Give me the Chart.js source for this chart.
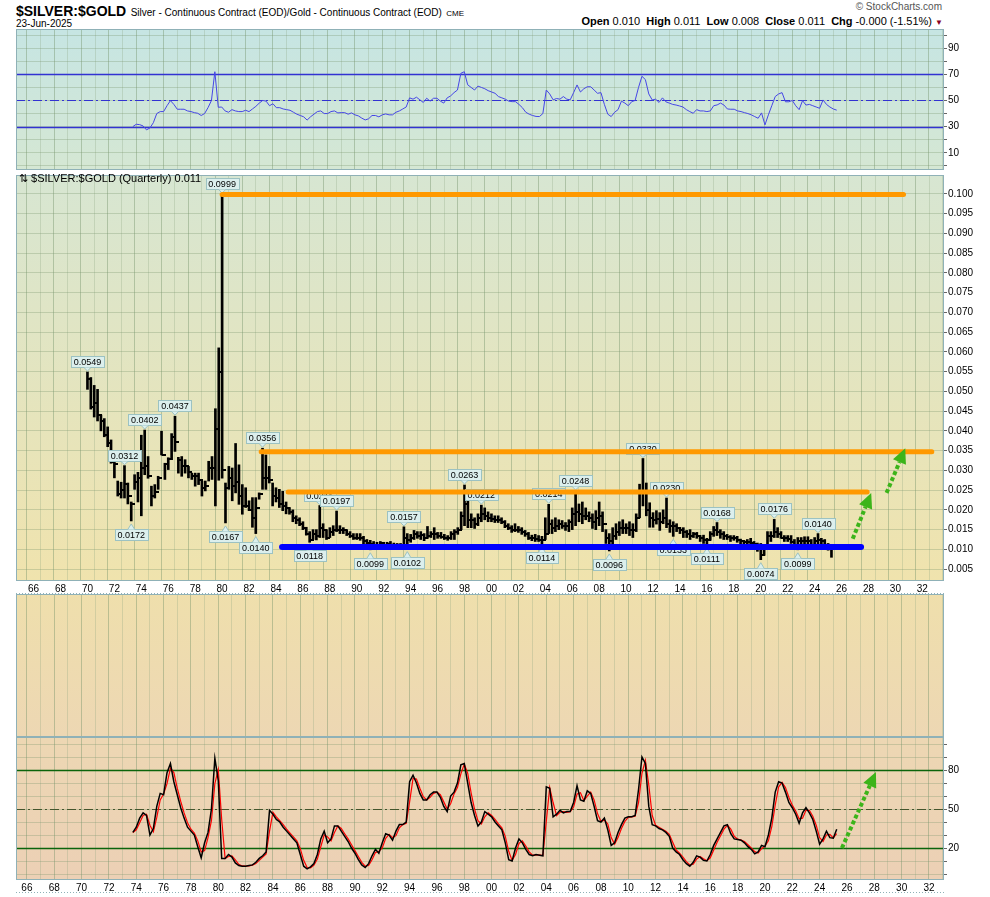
<!DOCTYPE html>
<html>
<head>
<meta charset="utf-8">
<script src="https://cdn.jsdelivr.net/npm/chart.js@4.4.1/dist/chart.umd.min.js"></script>
<style>
  html, body { margin: 0; padding: 0; background: #fff; }
  #wrap { position: relative; width: 990px; height: 897px; overflow: hidden; font-family: "Liberation Sans", Arial, sans-serif; color: #000; }
  canvas { position: absolute; left: 0; }
  #title { position: absolute; left: 16px; top: 2px; white-space: nowrap; }
  #title .sym { font-weight: bold; font-size: 14px; }
  #title .desc { font-size: 10px; }
  #title .ex { font-size: 8px; }
  #date { position: absolute; left: 16px; top: 18px; font-size: 10px; }
  #brand { position: absolute; right: 48px; top: 1px; font-size: 10px; color: #555; }
  #quote { position: absolute; right: 47px; top: 15px; font-size: 11px; white-space: nowrap; }
  #quote b { font-size: 11px; }
  #quote .tri { color: #8b0022; font-size: 8px; }
  #legend { position: absolute; left: 19px; top: 172px; font-size: 11px; white-space: nowrap; z-index: 2; }
</style>
</head>
<body>
<div id="wrap">
  <div id="title"><span class="sym">$SILVER:$GOLD</span> <span class="desc">Silver - Continuous Contract (EOD)/Gold - Continuous Contract (EOD)</span> <span class="ex">CME</span></div>
  <div id="date">23-Jun-2025</div>
  <div id="brand">© StockCharts.com</div>
  <div id="quote"><b>Open</b> 0.010&nbsp; <b>High</b> 0.011&nbsp; <b>Low</b> 0.008&nbsp; <b>Close</b> 0.011&nbsp; <b>Chg</b> -0.000 (-1.51%) <span class="tri">▼</span></div>
  <canvas id="rsiPanel" width="990" height="141" style="top:29px"></canvas>
  <canvas id="pricePanel" width="990" height="424" style="top:170px"></canvas>
  <canvas id="emptyPanel" width="990" height="143" style="top:594px"></canvas>
  <canvas id="stochPanel" width="990" height="156" style="top:737px"></canvas>
  <div id="legend">⇅ $SILVER:$GOLD (Quarterly) 0.011</div>
</div>
<script>
// ---- data (quarterly, first bar = 1970 Q1) ----
const SCALE = 1000;          // price arrays are the ratio x 1000
const FIRST_QUARTER = 1970;
const IND_START = 15;        // indicators begin at 1973 Q4

const highs = [
  54.9, 53.5, 51.5, 50.5,  44.0, 43.1, 41.0, 37.7,  33.9, 27.3, 27.0, 31.2,  26.8, 22.0, 28.9, 29.5,
  38.9, 40.2, 33.5, 26.0,  26.4, 28.5, 39.9, 31.8,  33.2, 39.3, 43.7, 33.3,  33.5, 32.7, 31.0, 29.3,
  29.3, 29.3, 27.3, 27.3,  32.3, 33.5, 45.6, 61.0,  99.9, 26.8, 31.0, 30.6,  36.8, 31.4, 26.4, 25.6,
  22.3, 23.1, 23.1, 24.3,  35.6, 33.9, 31.0, 26.8,  25.6, 25.2, 24.7, 22.0,  20.6, 20.0, 18.5, 18.0,
  17.0, 15.6, 14.5, 15.0,  15.0, 21.1, 16.5, 15.0,  15.5, 16.0, 19.7, 16.0,  15.5, 15.0, 14.5, 14.0,
  14.0, 14.0, 13.3, 12.5,  12.3, 12.0, 11.8, 12.0,  11.8, 11.8, 12.0, 11.6,  11.5, 11.5, 15.7, 14.0,
  13.8, 14.8, 14.5, 14.5,  14.0, 15.8, 14.5, 15.5,  14.3, 14.3, 13.8, 13.5,  14.5, 15.0, 15.5, 19.5,
  26.3, 22.5, 19.0, 18.0,  19.0, 21.2, 20.5, 19.5,  19.0, 18.5, 18.5, 18.0,  17.3, 16.5, 16.0, 16.5,
  15.8, 15.5, 14.8, 14.3,  13.6, 13.8, 13.5, 13.3,  18.0, 21.4, 17.5, 18.0,  17.5, 17.3, 16.8, 17.5,
  20.5, 24.8, 21.5, 22.0,  20.5, 19.5, 19.0, 19.8,  22.0, 19.5, 15.0, 14.0,  15.5, 16.5, 17.0, 17.5,
  16.5, 17.0, 16.5, 19.0,  26.5, 33.0, 26.8, 21.8,  19.3, 19.8, 19.3, 20.0,  23.0, 17.5, 17.0, 16.5,
  15.5, 15.5, 14.8, 15.0,  14.3, 14.3, 13.5, 13.6,  12.8, 14.5, 15.8, 16.8,  15.0, 14.5, 13.8, 13.5,
  13.5, 13.3, 12.6, 12.3,  12.5, 12.8, 12.0, 11.6,  11.5, 11.0, 14.5, 14.5,  17.6, 15.5, 14.5, 13.5,
  13.5, 13.5, 12.5, 13.0,  13.0, 13.2, 13.2, 12.5,  13.0, 14.0, 12.8, 12.5,  11.5, 11.0
];
const lows = [
  50.5, 45.5, 43.5, 42.5,  40.0, 38.5, 36.0, 31.8,  28.1, 23.5, 23.0, 23.0,  21.5, 17.2, 25.2, 22.0,
  18.5, 28.9, 28.0, 21.0,  23.0, 25.2, 33.9, 27.7,  30.2, 32.7, 34.8, 29.3,  28.5, 29.3, 28.1, 27.7,
  26.0, 26.4, 23.5, 24.8,  27.3, 27.7, 21.0, 27.5,  28.0, 16.7, 25.2, 22.3,  24.3, 21.4, 18.9, 20.6,
  19.8, 15.6, 14.0, 22.7,  25.2, 25.2, 26.8, 21.0,  22.0, 20.6, 19.8, 19.0,  18.9, 17.0, 16.5, 16.0,
  15.0, 13.6, 11.8, 12.5,  12.4, 13.0, 13.0, 12.5,  13.0, 13.5, 14.5, 14.0,  14.0, 13.5, 13.0, 12.5,
  12.5, 12.3, 11.4, 10.9,   9.9, 10.5, 10.5, 10.8,  10.6, 10.7, 10.7, 10.5,  10.4, 10.5, 11.0, 10.2,
  11.8, 12.5, 12.8, 12.5,  12.2, 12.8, 13.0, 12.5,  12.8, 12.8, 12.5, 12.3,  12.5, 12.5, 13.8, 15.0,
  16.0, 15.5, 15.5, 15.3,  16.0, 17.0, 17.5, 17.0,  17.0, 16.8, 16.8, 16.5,  15.5, 15.0, 14.3, 14.5,
  14.3, 13.8, 13.3, 12.5,  12.2, 12.0, 12.0, 11.4,  12.5, 14.0, 14.0, 14.5,  15.0, 15.3, 14.8, 14.5,
  15.0, 16.0, 17.0, 16.5,  17.5, 17.0, 15.3, 15.0,  16.0, 14.5, 11.5,  9.6,  11.0, 12.5, 13.5, 14.0,
  14.0, 13.5, 13.0, 14.5,  18.0, 21.0, 18.5, 15.6,  15.6, 16.4, 14.8, 16.5,  15.5, 14.3, 13.3, 14.5,
  14.0, 13.0, 13.0, 12.5,  13.0, 12.8, 12.0, 11.5,  11.1, 12.3, 13.3, 13.5,  12.8, 12.5, 12.5, 12.0,
  12.3, 11.8, 11.3, 11.2,  11.0, 10.8, 10.5,  9.5,   7.4,  8.5, 10.0, 12.0,  13.0, 13.0, 12.8, 12.0,
  12.0, 11.5, 10.6,  9.9,  11.2, 11.0, 10.8, 10.5,  11.3, 11.0, 11.3, 10.0,   9.8,  8.0
];
const closes = [
  53.0, 46.0, 47.0, 44.0,  42.5, 39.0, 37.0, 32.0,  31.5, 24.0, 25.0, 26.5,  23.5, 21.5, 27.0, 28.0,
  30.5, 31.0, 28.5, 23.5,  24.5, 28.0, 34.0, 31.5,  33.0, 38.5, 37.3, 32.5,  31.0, 31.0, 29.5, 28.5,
  28.5, 27.5, 25.5, 26.0,  30.5, 30.5, 40.5, 55.0,  30.0, 25.6, 28.0, 26.0,  27.0, 23.5, 21.0, 21.0,
  20.0, 18.0, 20.5, 24.0,  28.0, 28.0, 27.5, 23.5,  23.0, 21.5, 21.0, 20.5,  19.5, 18.0, 17.5, 16.5,
  15.5, 14.0, 12.5, 14.0,  13.5, 15.5, 15.0, 13.0,  14.5, 15.0, 15.0, 15.0,  14.8, 14.0, 13.5, 13.0,
  13.0, 13.0, 12.0, 11.5,  11.3, 11.0, 11.2, 11.5,  11.0, 11.3, 11.2, 11.0,  11.0, 11.0, 13.0, 12.5,
  12.8, 14.0, 13.5, 13.6,  13.0, 13.5, 14.0, 13.8,  13.5, 13.2, 13.0, 12.8,  14.0, 14.5, 15.0, 18.5,
  21.5, 17.5, 17.5, 16.5,  18.0, 19.0, 18.5, 18.0,  17.8, 17.5, 17.5, 17.0,  16.0, 15.5, 15.0, 15.0,
  14.8, 14.3, 13.8, 13.0,  12.8, 12.6, 12.5, 12.4,  14.0, 16.5, 15.5, 16.0,  16.3, 16.0, 15.8, 17.0,
  19.0, 19.5, 19.0, 18.5,  18.5, 18.0, 17.0, 18.0,  18.5, 16.5, 13.0, 12.0,  13.5, 14.5, 15.5, 15.5,
  15.5, 15.0, 15.0, 18.0,  24.5, 24.5, 20.0, 18.0,  17.5, 17.8, 17.0, 18.0,  16.5, 16.0, 16.0, 15.5,
  15.0, 14.5, 14.0, 13.5,  13.8, 13.5, 12.8, 12.5,  12.3, 14.0, 15.0, 14.5,  14.0, 13.5, 13.2, 12.8,
  12.8, 12.5, 12.0, 11.8,  11.8, 11.5, 11.3, 11.0,   8.5, 10.5, 13.5, 13.5,  14.5, 14.0, 13.0, 12.8,
  12.7, 11.8, 11.0, 12.0,  12.0, 12.2, 12.0, 11.2,  12.2, 12.3, 12.0, 11.0,  10.5, 10.9
];

// RSI(14), from 1973 Q4
const rsi14 = [
  30,
  31.8, 31.5, 30.5, 27.5,  29, 33, 40, 41.5,  41.5, 46, 49.9, 47,  43.3, 43.3, 43.3, 42,
  41.5, 40.7, 40.2, 38.5,  40, 44.5, 50, 72,  44.8, 45, 42, 41,  43, 42, 41.5, 41.5,
  42.5, 41.5, 43.5, 45.5,  48, 50, 49.5, 46,  47.5, 44.5, 44.5, 43.5,  43, 42.5, 41, 39.5,
  38.5, 37.5, 35, 37.5,  39.5, 41.5, 42, 40,  40, 41.5, 42, 40.5,  40.7, 40.7, 39.5, 40.5,
  39, 38.2, 36.5, 35.1,  36, 38.5, 38.5, 37.5,  39, 39.7, 39, 39,  41, 42, 43.5, 45,
  52, 51, 52.5, 50.5,  48.5, 51.7, 49.5, 51.7,  51.7, 49.5, 48, 52,  53.5, 56, 58, 70.8,
  72, 62, 60, 58,  61, 60, 59, 57.5,  56.5, 55.5, 53, 52,  51, 49.5, 49.1, 49.1,
  47, 44.5, 41, 39.5,  38.5, 37.8, 37.7, 40,  58, 55, 50.5, 51.5,  51, 53, 51, 50.5,
  56, 61.9, 56.5, 59,  60.5, 60.5, 58, 55.5,  56, 47, 39.5, 37.7,  41, 43, 49.5, 48,
  46, 49.1, 50, 60,  68.5, 66, 55, 50.4,  51, 48.5, 52, 49,  48, 47, 46.5, 45.8,
  45, 43, 41.5, 40.2,  43, 42, 42, 41.5,  42, 46, 46.6, 48,  46.5, 43.5, 43.3, 43.3,
  42, 41.5, 40.7, 40,  39, 37.7, 36.4, 40.5,  31.3, 39, 46, 53,  55, 56, 49, 49,
  50, 46, 43, 49.9,  46.5, 47, 46, 45,  44, 50.4, 47, 45,  43.5, 42.6
];

// slow stochastic %K and %D, from 1973 Q4
const stochK = [
  32,
  36, 43, 47, 45,  30, 35, 52, 62,  61, 78, 85, 71,  61, 51, 43, 36,
  33, 30, 21, 12.5,  24, 32, 50, 89,  72, 12, 12, 15,  13, 8.5, 6.5, 6,
  6, 6.5, 7, 9,  12, 14, 17, 49,  46, 42, 40, 36,  33, 30, 27, 24,
  15, 6, 4, 5.5,  8, 15, 27, 33,  24, 27, 37, 37,  33, 29, 25, 20,
  16, 11, 7, 5,  8, 14, 19, 16,  24, 31, 30, 26,  33, 38, 38, 40,
  71, 76, 70, 62,  57, 57, 61, 63,  63, 59, 52, 48,  60, 63, 70, 84,
  85, 70, 55, 45,  37, 40, 48, 46,  44, 40, 37, 34,  24, 11, 10, 20,
  27, 24, 19, 15,  14, 15, 14.5, 14,  67, 66, 44, 46,  49, 47, 48, 48,
  55, 68, 57, 56,  64, 62, 52, 41,  40, 43, 34, 22,  24, 32, 38, 43,
  44, 44, 45, 65,  90, 85, 52, 38,  37, 35, 34, 32,  29, 20, 17, 15,
  11, 8, 6, 9,  14, 13, 10.5, 10,  15, 22, 27, 32,  37, 38, 31, 27,
  26.5, 26, 24, 21,  19, 15.5, 17, 22,  21, 30, 43, 63,  71, 70, 63, 55,
  51, 46, 39, 47,  51, 47, 42, 33,  23, 27, 33, 28,  27.5, 34.5
];
const stochD = [
  32,
  34, 39.5, 45, 46,  37.5, 32.5, 43.5, 57,  61.5, 69.5, 81.5, 78,  66, 56, 47, 39.5,
  34.5, 31.5, 25.5, 17,  18, 28, 41, 69.5,  80.5, 42, 12, 13.5,  14, 10.8, 7.5, 6.2,
  6, 6.2, 6.8, 8,  10.5, 13, 15.5, 33,  47.5, 44, 41, 38,  34.5, 31.5, 28.5, 25.5,
  19.5, 10.5, 5, 4.8,  6.8, 11.5, 21, 30,  28.5, 25.5, 32, 37,  35, 31, 27, 22.5,
  18, 13.5, 9, 6,  6.5, 11, 16.5, 17.5,  20, 27.5, 30.5, 28,  29.5, 35.5, 38, 39,
  55.5, 73.5, 73, 66,  59.5, 57, 59, 62,  63, 61, 55.5, 50,  54, 61.5, 66.5, 77,
  84.5, 77.5, 62.5, 50,  41, 38.5, 44, 47,  45, 42, 38.5, 35.5,  29, 17.5, 10.5, 15,
  23.5, 25.5, 21.5, 17,  14.5, 14.5, 14.8, 14.2,  40.5, 66.5, 55, 45,  47.5, 48, 47.5, 48,
  51.5, 61.5, 62.5, 56.5,  60, 63, 57, 46.5,  40.5, 41.5, 38.5, 28,  23, 28, 35, 40.5,
  43.5, 44, 44.5, 55,  77.5, 87.5, 68.5, 45,  37.5, 36, 34.5, 33,  30.5, 24.5, 18.5, 16,
  13, 9.5, 7, 7.5,  11.5, 13.5, 11.8, 10.2,  12.5, 18.5, 24.5, 29.5,  34.5, 37.5, 34.5, 29,
  26.8, 26.2, 25, 22.5,  20, 17.2, 16.2, 19.5,  21.5, 25.5, 36.5, 53,  67, 70.5, 66.5, 59,
  53, 48.5, 42.5, 43,  49, 49, 44.5, 37.5,  28, 25, 30, 30.5,  27.8, 31
];

// value callouts on the price panel
const calloutYears  = [1970.0, 1972.75, 1973.25, 1974.25, 1976.5, 1980.0, 1980.25, 1982.5, 1983.0, 1986.5, 1987.25, 1988.5,
                       1991.0, 1993.5, 1993.75, 1998.0, 1999.25, 2003.75, 2004.25, 2006.25, 2008.75, 2011.25, 2013.0, 2013.5,
                       2016.0, 2016.75, 2020.0, 2021.0, 2022.75, 2024.25];
const calloutValues = [54.9, 31.2, 17.2, 40.2, 43.7, 99.9, 16.7, 14.0, 35.6, 11.8, 21.1, 19.7,
                       9.9, 15.7, 10.2, 26.3, 21.2, 11.4, 21.4, 24.8, 9.6, 33.0, 23.0, 13.3,
                       11.1, 16.8, 7.4, 17.6, 9.9, 14.0];
const calloutBelow  = [false, false, true, false, false, false, true, true, false, true, false, false,
                       true, false, true, false, false, true, false, false, true, false, false, true,
                       true, false, true, false, true, false];

// drawn support / resistance lines (years, ratio)
const trendFrom  = [1980.0, 1982.9, 1984.9, 1984.45];
const trendTo    = [2030.6, 2032.7, 2027.9, 2027.45];
const trendLevel = [0.0998, 0.0347, 0.0245, 0.0106];

// projection arrows [fromYear, fromValue, toYear, toValue]
const priceArrows = [[2026.83, 0.0127, 2028.2, 0.0243], [2029.34, 0.0243, 2030.73, 0.0356]];
const stochArrow = [2025.63, 20, 2028.12, 78.5];

// axes
const yearLabels = ['66','68','70','72','74','76','78','80','82','84','86','88','90','92','94','96','98',
                    '00','02','04','06','08','10','12','14','16','18','20','22','24','26','28','30','32'];
const priceTicks = [0.005, 0.010, 0.015, 0.020, 0.025, 0.030, 0.035, 0.040, 0.045, 0.050,
                    0.055, 0.060, 0.065, 0.070, 0.075, 0.080, 0.085, 0.090, 0.095, 0.100];
const oscGrid = [0, 10, 20, 30, 40, 50, 60, 70, 80, 90, 100];
const rsiLabels = [10, 30, 50, 70, 90];
const stochLabels = [20, 50, 80];
const rsiLevels = [70, 50, 30];
const stochLevels = [80, 50, 20];

// ---- shared look ----
const X_MIN = 1965.2, X_MAX = 2033.1;
const GRID_EVEN = 'rgba(115,145,105,0.42)';
const GRID_ODD = 'rgba(135,160,125,0.28)';
const GRID_H = 'rgba(120,150,110,0.32)';
const BORDER = '#8fb1b7';
const tickFont = { family: '"Liberation Sans", Arial, sans-serif', size: 10 };

const gridYears = [];
for (let y = 1966; y <= 2033; y++) gridYears.push(y);

const quarterX = i => FIRST_QUARTER + i * 0.25;

function noPad(s) {
  s.paddingTop = 0; s.paddingBottom = 0; s.paddingLeft = 0; s.paddingRight = 0;
}

function xAxis(showLabels) {
  return {
    type: 'linear', min: X_MIN, max: X_MAX,
    afterBuildTicks: s => { s.ticks = gridYears.map(v => ({ value: v })); },
    afterFit: s => { s.height = showLabels ? 13 : 0; noPad(s); },
    grid: { color: c => (c.tick && c.tick.value % 2 === 0) ? GRID_EVEN : GRID_ODD, drawTicks: false },
    border: { display: false },
    ticks: {
      display: showLabels, autoSkip: false, maxRotation: 0, padding: 2, color: '#000', font: tickFont,
      callback: v => (v % 2 === 0) ? yearLabels[(v - 1966) / 2] : ''
    }
  };
}

function yAxis(min, max, gridVals, labelFn, showGrid) {
  return {
    position: 'right', min, max,
    afterBuildTicks: s => { s.ticks = gridVals.map(v => ({ value: v })); },
    afterFit: s => { s.width = 46; noPad(s); },
    grid: { display: showGrid, color: GRID_H, drawTicks: true, tickLength: 3, tickColor: '#666' },
    border: { display: false },
    ticks: { autoSkip: false, padding: 1, color: '#000', font: tickFont, callback: labelFn }
  };
}

function panelPlugin(top, bottom, strip) {
  return {
    id: 'panel',
    beforeDraw(chart) {
      const { ctx, chartArea: a } = chart;
      const g = ctx.createLinearGradient(0, a.top, 0, a.bottom);
      g.addColorStop(0, top);
      g.addColorStop(1, bottom);
      ctx.save();
      ctx.fillStyle = g;
      ctx.fillRect(a.left, a.top, a.right - a.left, a.bottom - a.top);
      ctx.restore();
    },
    afterDraw(chart) {
      const { ctx, chartArea: a } = chart;
      ctx.save();
      ctx.strokeStyle = BORDER;
      ctx.lineWidth = 1;
      ctx.strokeRect(a.left + 0.5, a.top + 0.5, a.right - a.left - 1, a.bottom - a.top - 1);
      if (strip) {
        ctx.setLineDash([1, 2]);
        ctx.beginPath();
        ctx.moveTo(a.left, a.bottom + 12.5);
        ctx.lineTo(a.right, a.bottom + 12.5);
        ctx.stroke();
      }
      ctx.restore();
    }
  };
}

function levelPlugin(values, colors, widths, dashes) {
  return {
    id: 'levels',
    beforeDatasetsDraw(chart) {
      const { ctx, chartArea: a, scales: { y } } = chart;
      ctx.save();
      values.forEach((v, i) => {
        const py = Math.round(y.getPixelForValue(v)) + 0.5;
        ctx.strokeStyle = colors[i];
        ctx.lineWidth = widths[i];
        ctx.setLineDash(dashes[i]);
        ctx.beginPath();
        ctx.moveTo(a.left, py);
        ctx.lineTo(a.right, py);
        ctx.stroke();
      });
      ctx.restore();
    }
  };
}

function drawArrow(ctx, x1, y1, x2, y2) {
  const ang = Math.atan2(y2 - y1, x2 - x1);
  const head = 15, hw = 7;
  const bx = x2 - head * Math.cos(ang), by = y2 - head * Math.sin(ang);
  ctx.save();
  ctx.strokeStyle = '#3cb41a';
  ctx.fillStyle = '#3cb41a';
  ctx.lineWidth = 4;
  ctx.lineCap = 'butt';
  ctx.setLineDash([4, 2.5]);
  ctx.beginPath();
  ctx.moveTo(x1, y1);
  ctx.lineTo(bx, by);
  ctx.stroke();
  ctx.setLineDash([]);
  ctx.beginPath();
  ctx.moveTo(x2, y2);
  ctx.lineTo(bx + hw * Math.sin(ang), by - hw * Math.cos(ang));
  ctx.lineTo(bx - hw * Math.sin(ang), by + hw * Math.cos(ang));
  ctx.closePath();
  ctx.fill();
  ctx.restore();
}

function drawCallout(ctx, x, y, text, below) {
  ctx.font = '9px "Liberation Sans", Arial, sans-serif';
  const w = Math.ceil(ctx.measureText(text).width) + 5, h = 11;
  const left = Math.round(x - w / 2) + 0.5;
  let top, baseY, tipY;
  if (below) { top = Math.round(y + 8) + 0.5; baseY = top; tipY = y + 3; }
  else { top = Math.round(y - 5 - h) + 0.5; baseY = top + h; tipY = y - 1; }
  ctx.fillStyle = '#dcefed';
  ctx.strokeStyle = '#9cc2c2';
  ctx.lineWidth = 1;
  ctx.fillRect(left, top, w, h);
  ctx.strokeRect(left, top, w, h);
  ctx.beginPath();
  ctx.moveTo(x - 3.5, baseY);
  ctx.lineTo(x, tipY);
  ctx.lineTo(x + 3.5, baseY);
  ctx.closePath();
  ctx.fill();
  ctx.beginPath();
  ctx.moveTo(x - 3.5, baseY);
  ctx.lineTo(x, tipY);
  ctx.lineTo(x + 3.5, baseY);
  ctx.stroke();
  ctx.fillStyle = '#000';
  ctx.textAlign = 'center';
  ctx.textBaseline = 'middle';
  ctx.fillText(text, x, top + h / 2 + 0.5);
}

const markupPlugin = {
  id: 'markup',
  afterDatasetsDraw(chart) {
    const { ctx, scales: { x, y } } = chart;
    ctx.save();
    calloutYears.forEach((yr, i) => {
      const txt = (calloutValues[i] / SCALE).toFixed(4);
      drawCallout(ctx, x.getPixelForValue(yr), y.getPixelForValue(calloutValues[i] / SCALE), txt, calloutBelow[i]);
    });
    const colors = ['#ff9900', '#ff9900', '#ff9900', '#0000ff'];
    const widths = [5, 5, 5, 6];
    ctx.lineCap = 'round';
    trendLevel.forEach((lv, i) => {
      ctx.strokeStyle = colors[i];
      ctx.lineWidth = widths[i];
      const py = y.getPixelForValue(lv);
      ctx.beginPath();
      ctx.moveTo(x.getPixelForValue(trendFrom[i]), py);
      ctx.lineTo(x.getPixelForValue(trendTo[i]), py);
      ctx.stroke();
    });
    ctx.restore();
    priceArrows.forEach(a => drawArrow(ctx, x.getPixelForValue(a[0]), y.getPixelForValue(a[1]),
                                       x.getPixelForValue(a[2]), y.getPixelForValue(a[3])));
  }
};

// close tick drawn to the right of each bar
const closeTick = document.createElement('canvas');
closeTick.width = 8; closeTick.height = 2;
const tctx = closeTick.getContext('2d');
tctx.fillStyle = '#000';
tctx.fillRect(4, 0, 4, 2);

const common = {
  responsive: false, animation: false,
  layout: { padding: { left: 16, right: 0, top: 0, bottom: 0 } },
  plugins: { legend: { display: false }, tooltip: { enabled: false } }
};

// ---- RSI panel ----
new Chart(document.getElementById('rsiPanel'), {
  type: 'line',
  data: {
    datasets: [{
      data: rsi14.map((v, i) => ({ x: quarterX(IND_START + i), y: v })),
      borderColor: '#4646e6', borderWidth: 1, pointRadius: 0, tension: 0
    }]
  },
  options: {
    ...common,
    scales: {
      x: xAxis(false),
      y: yAxis(-3.2, 104.7, oscGrid, v => rsiLabels.includes(v) ? String(v) : '', true)
    }
  },
  plugins: [panelPlugin('#c6e5e3', '#d5e7d3', false),
            levelPlugin(rsiLevels, ['#3232d2', '#3232d2', '#3232d2'], [1.5, 1.2, 1.5], [[], [9, 3, 2, 3], []])]
});

// ---- price panel ----
new Chart(document.getElementById('pricePanel'), {
  type: 'bar',
  data: {
    datasets: [
      {
        type: 'bar',
        data: highs.map((h, i) => ({ x: quarterX(i), y: [lows[i] / SCALE, h / SCALE] })),
        backgroundColor: '#000', barThickness: 2, grouped: false, order: 2
      },
      {
        type: 'scatter',
        data: closes.map((c, i) => ({ x: quarterX(i), y: c / SCALE })),
        pointStyle: closeTick, pointRadius: 3, order: 1
      }
    ]
  },
  options: {
    ...common,
    scales: {
      x: xAxis(true),
      y: yAxis(0.002, 0.10475, priceTicks, v => v.toFixed(3), true)
    }
  },
  plugins: [panelPlugin('#d7e6d2', '#f0e3ad', true), markupPlugin]
});

// ---- empty indicator panel ----
new Chart(document.getElementById('emptyPanel'), {
  type: 'line',
  data: { datasets: [] },
  options: {
    ...common,
    scales: {
      x: xAxis(false),
      y: yAxis(0, 100, [], () => '', false)
    }
  },
  plugins: [panelPlugin('#efdfac', '#edd7b3', false)]
});

// ---- stochastic panel ----
new Chart(document.getElementById('stochPanel'), {
  type: 'line',
  data: {
    datasets: [
      { data: stochK.map((v, i) => ({ x: quarterX(IND_START + i), y: v })),
        borderColor: '#000', borderWidth: 1.5, pointRadius: 0, tension: 0, order: 0 },
      { data: stochD.map((v, i) => ({ x: quarterX(IND_START + i), y: v })),
        borderColor: '#ff0000', borderWidth: 1.2, pointRadius: 0, tension: 0, order: 1 }
    ]
  },
  options: {
    ...common,
    scales: {
      x: xAxis(true),
      y: yAxis(-4.6, 105.4, oscGrid, v => stochLabels.includes(v) ? String(v) : '', true)
    }
  },
  plugins: [
    panelPlugin('#edd7b3', '#ecd0b5', true),
    levelPlugin(stochLevels, ['#0b640b', '#44552c', '#0b640b'], [1.5, 1.2, 1.5], [[], [9, 3, 2, 3], []]),
    {
      id: 'stochArrow',
      afterDatasetsDraw(chart) {
        const { ctx, scales: { x, y } } = chart;
        drawArrow(ctx, x.getPixelForValue(stochArrow[0]), y.getPixelForValue(stochArrow[1]),
                  x.getPixelForValue(stochArrow[2]), y.getPixelForValue(stochArrow[3]));
      }
    }
  ]
});
</script>
</body>
</html>
